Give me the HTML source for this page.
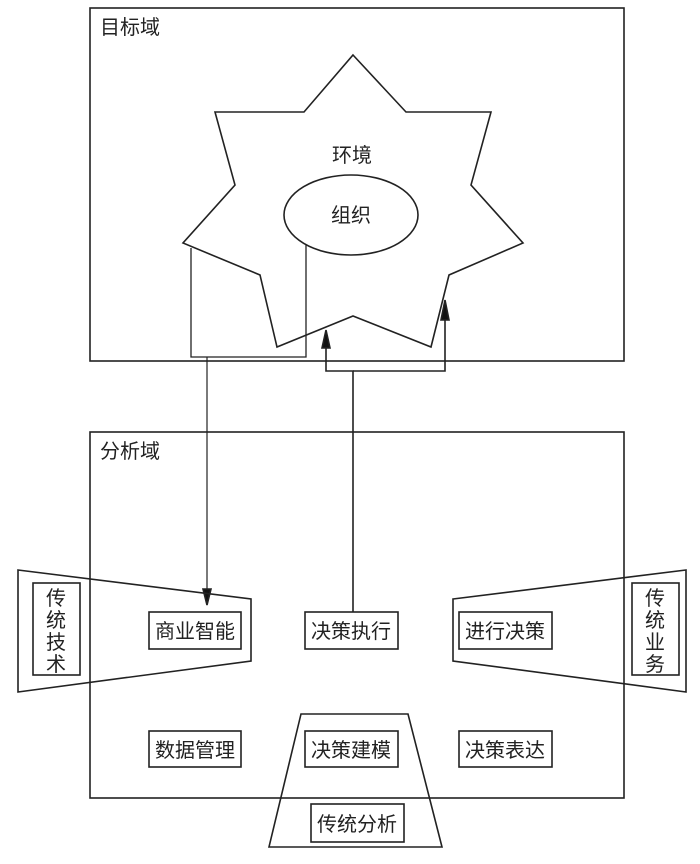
<!DOCTYPE html>
<html><head><meta charset="utf-8"><style>
html,body{margin:0;padding:0;background:#fff}
svg{display:block}
text{font-family:"Liberation Sans","Noto Sans CJK SC",sans-serif;font-size:20px;fill:#222}
</style></head><body>
<svg width="700" height="864" viewBox="0 0 700 864" xmlns="http://www.w3.org/2000/svg">
<g fill="none" stroke="#222" stroke-width="1.6">
<rect x="90" y="8" width="534" height="353"/>
<polygon points="353,55 406,112 491,112 471,185 523,243 449,275 431,347 353,316 277,347 260,275 183,243 235,185 215,112 304,112" fill="#fff"/>
<ellipse cx="351" cy="215" rx="67" ry="40" fill="#fff"/>
<polyline points="191,248 191,357 306,357 306,245" stroke-width="1.3"/>
<line x1="207" y1="357" x2="207" y2="605" stroke-width="1.2"/>
<polygon points="203,589 211,589 207,605" fill="#111"/>
<polyline points="353,624 353,371 326,371 326,346"/>
<polyline points="353,371 445,371 445,318"/>
<polygon points="322,348 330,348 326,330" fill="#111"/>
<polygon points="441,320 449,320 445,300" fill="#111"/>
<rect x="90" y="432" width="534" height="366"/>
<polygon points="18,570 251,599 251,661 18,692"/>
<polygon points="453,599 686,570 686,692 453,661"/>
<polygon points="301,714 408,714 442,847 269,847"/>
<rect x="33" y="583" width="47" height="92" fill="#fff"/>
<rect x="632" y="583" width="47" height="92" fill="#fff"/>
<rect x="149" y="612" width="92" height="37" fill="#fff"/>
<rect x="305" y="612" width="93" height="37" fill="#fff"/>
<rect x="459" y="612" width="93" height="37" fill="#fff"/>
<rect x="149" y="731" width="92" height="36" fill="#fff"/>
<rect x="305" y="731" width="93" height="36" fill="#fff"/>
<rect x="459" y="731" width="93" height="36" fill="#fff"/>
<rect x="311" y="804" width="93" height="38" fill="#fff"/>
</g>
<text x="100" y="34">目标域</text>
<text x="100" y="458">分析域</text>
<text x="352" y="162" text-anchor="middle">环境</text>
<text x="351" y="222" text-anchor="middle">组织</text>
<text x="195" y="638" text-anchor="middle">商业智能</text>
<text x="351" y="638" text-anchor="middle">决策执行</text>
<text x="505" y="638" text-anchor="middle">进行决策</text>
<text x="195" y="757" text-anchor="middle">数据管理</text>
<text x="351" y="757" text-anchor="middle">决策建模</text>
<text x="505" y="757" text-anchor="middle">决策表达</text>
<text x="357" y="831" text-anchor="middle">传统分析</text>
<g text-anchor="middle">
<text x="56" y="605">传</text><text x="56" y="627">统</text><text x="56" y="649">技</text><text x="56" y="671">术</text>
<text x="655" y="605">传</text><text x="655" y="627">统</text><text x="655" y="649">业</text><text x="655" y="671">务</text>
</g>
</svg>
</body></html>
